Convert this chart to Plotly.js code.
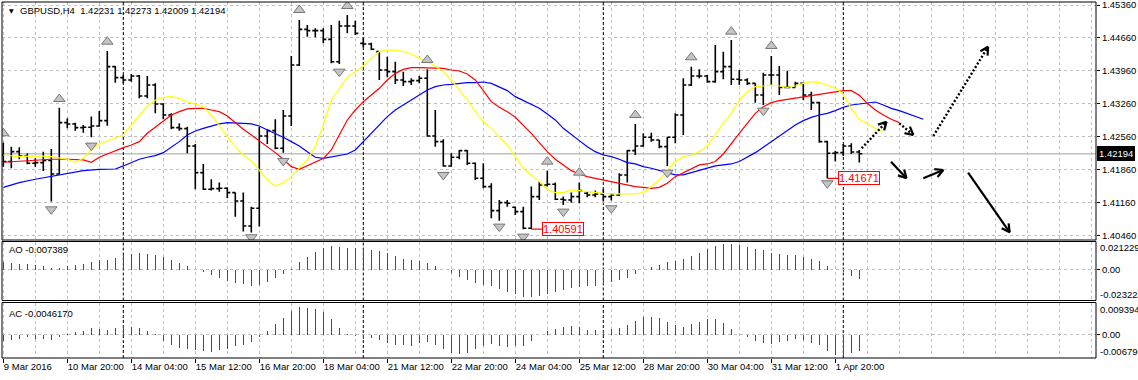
<!DOCTYPE html>
<html>
<head>
<meta charset="utf-8">
<script src="https://cdn.plot.ly/plotly-3.0.1.min.js"></script>
<style>html,body{margin:0;padding:0;background:#fff;}#chart{width:1138px;height:380px;}</style>
</head>
<body>
<div id="chart"></div>
<script>
// ---------------- DATA ----------------
const symbolTitle = "GBPUSD,H4";
const headerValues = ["1.42231", "1.42273", "1.42009", "1.42194"];

const opens = [1.42169,1.42029,1.42240,1.42148,1.41993,1.42007,1.42050,1.41765,1.42857,1.42829,
1.42751,1.42758,1.42786,1.42900,1.44048,1.43814,1.43764,1.43850,1.43424,1.43658,
1.43254,1.43020,1.42751,1.42729,1.42361,1.41793,1.41439,1.41453,1.41460,1.41368,
1.41191,1.40659,1.41035,1.42573,1.42687,1.42311,1.42999,1.44083,1.44842,1.44814,
1.44814,1.44629,1.44154,1.44913,1.44913,1.44544,1.44530,1.44367,1.43977,1.43942,
1.43764,1.43729,1.43750,1.43800,1.42573,1.42453,1.41936,1.42121,1.42261,1.41993,
1.41673,1.41496,1.40985,1.41155,1.41056,1.40964,1.40609,1.41283,1.41531,1.41545,
1.41226,1.41212,1.41283,1.41354,1.41318,1.41340,1.41283,1.41318,1.41744,1.42261,
1.42361,1.42545,1.42488,1.42346,1.42545,1.43020,1.43658,1.43850,1.43850,1.43729,
1.43942,1.44048,1.43779,1.43764,1.43693,1.43445,1.43871,1.43871,1.43608,1.43608,
1.43693,1.43445,1.43282,1.42453,1.42205,1.42219,1.42361,1.42231];
const highs = [1.42431,1.42346,1.42332,1.42205,1.42099,1.42240,1.42297,1.43176,1.42949,1.42857,
1.42807,1.42985,1.43105,1.44381,1.44062,1.43871,1.43892,1.43871,1.43850,1.43693,
1.43268,1.43055,1.42843,1.42772,1.42403,1.41978,1.41652,1.41581,1.41481,1.41368,
1.41368,1.41070,1.42772,1.42715,1.42928,1.43126,1.44275,1.45041,1.44934,1.44863,
1.44863,1.44934,1.45026,1.45147,1.45026,1.44672,1.44559,1.44367,1.44261,1.44154,
1.43942,1.43800,1.43850,1.43991,1.43126,1.42502,1.42205,1.42276,1.42276,1.42007,
1.41993,1.41567,1.41212,1.41212,1.41070,1.41070,1.41496,1.41602,1.41836,1.41581,
1.41283,1.41368,1.41581,1.41389,1.41411,1.41439,1.41354,1.41779,1.42276,1.42829,
1.42630,1.42644,1.42488,1.42559,1.43055,1.43800,1.44048,1.43991,1.43871,1.44509,
1.44367,1.44615,1.43977,1.43800,1.43693,1.43920,1.44275,1.44062,1.43963,1.43729,
1.43708,1.43516,1.43303,1.42474,1.42261,1.42403,1.42417,1.42273];
const lows = [1.41921,1.41886,1.42078,1.41971,1.41921,1.41829,1.41177,1.41758,1.42736,1.42687,
1.42644,1.42545,1.42772,1.42793,1.43708,1.43693,1.43729,1.43374,1.43374,1.43055,
1.42928,1.42715,1.42687,1.42205,1.41439,1.41425,1.41411,1.41389,1.41248,1.40857,
1.40539,1.40517,1.40645,1.42403,1.42290,1.42219,1.42786,1.44062,1.44686,1.44672,
1.44544,1.44119,1.44105,1.44757,1.44722,1.44459,1.44402,1.43764,1.43821,1.43679,
1.43637,1.43658,1.43693,1.42559,1.42346,1.41921,1.41921,1.42078,1.41957,1.41637,
1.41460,1.40822,1.40772,1.41070,1.40893,1.40591,1.40595,1.41212,1.41496,1.41212,
1.41106,1.41155,1.41141,1.41269,1.41269,1.41177,1.41198,1.41297,1.41581,1.42169,
1.42346,1.42453,1.42311,1.41936,1.42417,1.42595,1.43637,1.43800,1.43708,1.43708,
1.43779,1.43658,1.43658,1.43658,1.43282,1.43233,1.43658,1.43445,1.43587,1.43608,
1.43339,1.43126,1.42431,1.41671,1.42029,1.42148,1.42190,1.42009];
const closes = [1.42029,1.42240,1.42148,1.41993,1.42007,1.42050,1.41765,1.42857,1.42829,1.42751,
1.42758,1.42786,1.42900,1.44048,1.43814,1.43764,1.43850,1.43424,1.43658,1.43254,
1.43020,1.42751,1.42729,1.42361,1.41793,1.41439,1.41453,1.41460,1.41368,1.41191,
1.40659,1.41035,1.42573,1.42687,1.42311,1.42999,1.44083,1.44842,1.44814,1.44814,
1.44629,1.44154,1.44913,1.44913,1.44757,1.44530,1.44417,1.43977,1.43942,1.43764,
1.43729,1.43750,1.43800,1.42573,1.42453,1.41936,1.42121,1.42261,1.41993,1.41673,
1.41496,1.40985,1.41155,1.41141,1.40964,1.40609,1.41283,1.41531,1.41545,1.41226,
1.41212,1.41283,1.41411,1.41318,1.41340,1.41283,1.41318,1.41744,1.42261,1.42361,
1.42545,1.42488,1.42346,1.42545,1.43020,1.43658,1.43850,1.43850,1.43729,1.43942,
1.44048,1.43779,1.43764,1.43693,1.43445,1.43871,1.43871,1.43608,1.43608,1.43693,
1.43445,1.43282,1.42453,1.42205,1.42219,1.42361,1.42231,1.42194];

// Alligator lines (bar index, price)
const lipsBars = [0,2,4,6,8,9,10,11,12,14,15,16,17,18,19,20,21,22,23,24,25,26,27,28,29,30,31,32,33,34,35,36,37,38,39,40,
41,42,43,44,45,46,47,48,49,50,51,52,53,54,55,56,57,58,59,60,61,62,63,64,65,66,67,68,69,70,71,72,73,74,75,76,77,78,79,80,
81,82,83,84,85,86,87,88,89,90,91,92,93,94,95,96,97,98,99,100,101,102,103,104,105,106,107,108,109,110];
const lipsPrice = [1.42169,1.42134,1.42148,1.42134,1.42078,1.42014,1.42099,1.42276,1.42403,1.42524,1.42595,1.42807,1.43020,1.43211,1.43339,1.43396,1.43410,1.43374,1.43303,1.43254,
1.43197,1.43020,1.42786,1.42559,1.42346,1.42169,1.42050,1.41850,1.41637,1.41510,1.41581,1.41708,1.41886,1.42064,1.42346,1.42807,
1.43339,1.43587,1.43821,1.43942,1.44062,1.44225,1.44367,1.44402,1.44402,1.44367,1.44317,1.44225,1.44154,1.44062,1.43942,1.43764,1.43552,1.43339,1.43091,1.42878,
1.42736,1.42559,1.42382,1.42134,1.41886,1.41744,1.41602,1.41439,1.41368,1.41368,1.41425,1.41411,1.41389,1.41368,1.41354,1.41340,1.41340,1.41340,1.41340,1.41368,
1.41496,1.41637,1.41836,1.42029,1.42134,1.42169,1.42240,1.42361,1.42595,1.42843,1.43055,1.43339,1.43516,1.43623,1.43637,1.43658,1.43637,1.43608,1.43637,1.43693,
1.43729,1.43708,1.43658,1.43587,1.43467,1.43162,1.42928,1.42829,1.42736,1.42658];
const teethBars = [0,2,4,6,8,10,11,12,13,14,15,16,17,18,19,20,21,22,23,24,25,26,27,28,29,30,31,32,33,34,35,36,37,38,39,40,
41,42,43,44,45,46,47,48,49,50,51,52,53,54,55,56,57,58,59,60,61,62,63,64,65,66,67,68,69,70,71,72,73,74,75,76,77,78,79,80,
81,82,83,84,85,86,87,88,89,90,91,92,93,94,95,96,97,98,99,100,101,102,103,104,105,106,107,108,109,110,111,112];
const teethPrice = [1.42014,1.42036,1.42050,1.42078,1.42078,1.42064,1.42014,1.42121,1.42190,1.42261,1.42325,1.42382,1.42453,1.42630,1.42758,1.42900,1.43020,1.43091,1.43148,1.43162,
1.43162,1.43126,1.43091,1.42999,1.42857,1.42715,1.42595,1.42474,1.42346,1.42219,1.42078,1.41921,1.41864,1.41936,1.42007,1.42092,
1.42276,1.42595,1.42914,1.43126,1.43303,1.43445,1.43587,1.43764,1.43906,1.43991,1.44027,1.44027,1.44027,1.44027,1.44013,1.43977,1.43956,1.43892,1.43764,1.43538,
1.43303,1.43183,1.43091,1.42970,1.42807,1.42630,1.42431,1.42240,1.42078,1.41957,1.41836,1.41765,1.41708,1.41673,1.41637,1.41602,1.41567,1.41531,1.41496,1.41481,
1.41460,1.41481,1.41567,1.41708,1.41793,1.41886,1.41957,1.41978,1.42029,1.42190,1.42417,1.42630,1.42843,1.43055,1.43197,1.43282,1.43325,1.43353,1.43374,1.43396,
1.43424,1.43460,1.43481,1.43516,1.43538,1.43538,1.43438,1.43268,1.43126,1.43020,1.42928,1.42857];
const jawBars = [0,2,4,6,8,10,12,14,15,16,17,18,19,20,21,22,23,24,25,26,27,28,29,30,31,32,33,34,35,36,37,38,39,40,
41,42,43,44,45,46,47,48,49,50,51,52,53,54,55,56,57,58,59,60,61,62,63,64,65,66,67,68,69,70,71,72,73,74,75,76,77,78,79,80,
81,82,83,84,85,86,87,88,89,90,91,92,93,94,95,96,97,98,99,100,101,102,103,104,105,106,107,108,109,110,111,112,113,114,115];
const jawPrice = [1.41481,1.41581,1.41652,1.41708,1.41765,1.41836,1.41864,1.41871,1.41936,1.42014,1.42078,1.42121,1.42155,1.42219,1.42332,1.42453,1.42595,1.42680,1.42736,1.42786,
1.42829,1.42857,1.42857,1.42843,1.42829,1.42786,1.42701,1.42630,1.42545,1.42453,1.42361,1.42240,1.42121,1.42099,
1.42134,1.42169,1.42190,1.42276,1.42453,1.42630,1.42807,1.42985,1.43126,1.43233,1.43353,1.43460,1.43552,1.43623,1.43658,1.43672,1.43693,1.43708,1.43708,1.43722,
1.43693,1.43623,1.43538,1.43410,1.43325,1.43254,1.43162,1.43041,1.42914,1.42736,1.42595,1.42474,1.42346,1.42240,1.42169,1.42134,1.42078,1.42007,1.41978,1.41921,
1.41886,1.41836,1.41793,1.41744,1.41744,1.41793,1.41836,1.41886,1.41936,1.41957,1.41978,1.42029,1.42121,1.42219,1.42332,1.42453,1.42559,1.42687,1.42807,1.42900,
1.42970,1.43020,1.43055,1.43112,1.43183,1.43233,1.43254,1.43282,1.43296,1.43233,1.43162,1.43112,1.43055,1.42985,1.42928];

// Fractals (bar index, glyph price)
const fractalUpBars = [0,7,13,37,43,53,68,72,79,86,91,96];
const fractalUpPrice = [1.42630,1.43360,1.44580,1.45253,1.45338,1.44190,1.42027,1.41793,1.43020,1.44247,1.44793,1.44488];
const fractalDownBars = [6,11,31,35,42,55,62,65,70,76,83,95,103];
const fractalDownPrice = [1.41013,1.42368,1.40418,1.42042,1.43942,1.41744,1.40645,1.40432,1.40964,1.41035,1.41793,1.43112,1.41567];

// Awesome Oscillator
const aoValues = [0.0058,0.0050,0.0043,0.0040,0.0033,0.0025,0.0013,0.0010,0.0028,0.0035,
0.0043,0.0058,0.0070,0.0075,0.0088,0.0113,0.0118,0.0126,0.0118,0.0108,
0.0095,0.0073,0.0048,0.0025,-0.0002,-0.0018,-0.0040,-0.0063,-0.0085,-0.0100,
-0.0108,-0.0123,-0.0113,-0.0093,-0.0063,-0.0033,0.0008,0.0058,0.0093,0.0133,
0.0163,0.0176,0.0168,0.0166,0.0163,0.0158,0.0146,0.0141,0.0123,0.0100,
0.0083,0.0070,0.0063,0.0048,0.0025,-0.0001,-0.0025,-0.0055,-0.0075,-0.0100,
-0.0113,-0.0126,-0.0148,-0.0168,-0.0186,-0.0206,-0.0207,-0.0201,-0.0186,-0.0168,
-0.0156,-0.0138,-0.0131,-0.0126,-0.0120,-0.0116,-0.0093,-0.0075,-0.0063,-0.0033,
0.0001,0.0018,0.0038,0.0058,0.0068,0.0078,0.0100,0.0128,0.0153,0.0176,
0.0191,0.0190,0.0183,0.0171,0.0158,0.0146,0.0128,0.0120,0.0113,0.0108,
0.0095,0.0083,0.0063,0.0025,-0.0001,-0.0018,-0.0050,-0.007389];
// Accelerator Oscillator
const acValues = [-0.0019,-0.0015,-0.0012,-0.0008,-0.0012,-0.0013,-0.0015,-0.0008,0.0002,0.0008,
0.0012,0.0019,0.0017,0.0014,0.0021,0.0029,0.0023,0.0019,0.0010,0.0002,
-0.0019,-0.0031,-0.0039,-0.0043,-0.0046,-0.0048,-0.0049,-0.0046,-0.0043,-0.0034,
-0.0029,-0.0022,-0.0008,0.0012,0.0031,0.0050,0.0069,0.0082,0.0079,0.0075,
0.0067,0.0046,0.0021,0.0003,-0.0003,-0.0013,-0.0010,-0.0015,-0.0024,-0.0029,
-0.0031,-0.0032,-0.0024,-0.0021,-0.0031,-0.0043,-0.0053,-0.0056,-0.0053,-0.0043,
-0.0034,-0.0027,-0.0034,-0.0035,-0.0033,-0.0032,-0.0019,-0.0002,0.0010,0.0017,
0.0023,0.0024,0.0023,0.0014,0.0013,0.0012,0.0017,0.0021,0.0029,0.0040,
0.0051,0.0053,0.0050,0.0037,0.0027,0.0023,0.0031,0.0037,0.0046,0.0045,
0.0034,0.0017,-0.0002,-0.0006,-0.0019,-0.0024,-0.0026,-0.0021,-0.0017,-0.0012,
-0.0014,-0.0024,-0.0029,-0.0048,-0.0058,-0.0061,-0.0053,-0.004617];
const aoLabel = "AO -0.007389";
const acLabel = "AC -0.0046170";
const aoScale = [-0.023224, 0.021229];
const acScale = [-0.006796, 0.009394];
const aoScaleText = ["-0.023224", "0.00", "0.021229"];
const acScaleText = ["-0.006796", "0.00", "0.009394"];

// Axis ticks
const priceTicks = [1.40460,1.41160,1.41860,1.42560,1.43260,1.43960,1.44660,1.45360];
const timeTickBars = [0,8,16,24,32,40,48,56,64,72,80,88,96,104];
const timeTickText = ["9 Mar 2016","10 Mar 20:00","14 Mar 04:00","15 Mar 12:00","16 Mar 20:00","18 Mar 04:00",
"21 Mar 12:00","22 Mar 20:00","24 Mar 04:00","25 Mar 12:00","28 Mar 20:00","30 Mar 04:00","31 Mar 12:00","1 Apr 20:00"];
const weekSeparatorBars = [15,45,75,105];

// Low labels
const lowLabelBars = [66,103];
const lowLabelPrices = [1.40591,1.41671];
const currentPrice = 1.42194;

// Hand-drawn arrows (tail -> head)
const arrowTailBar = [107.3,112.0,110.96,115.0,116.25,120.6];
const arrowTailPrice = [1.42311,1.42843,1.42026,1.41673,1.42573,1.41792];
const arrowHeadBar = [110.4,113.75,112.9,117.5,123.1,125.8];
const arrowHeadPrice = [1.42877,1.42594,1.41673,1.41849,1.44473,1.40524];
const arrowDotted = [true,true,false,false,true,false];

// ---------------- LAYOUT GEOMETRY ----------------
const W=1138, H=380, ML=2, MR=42, MT=2, MB=22;
const plotW=W-ML-MR, plotH=H-MT-MB;
const PXBAR=8, BAR0PX=3.3;
const PRICE_PER_PX = 0.007/32.9;
const xRange=[(ML-BAR0PX)/PXBAR, (W-MR-BAR0PX)/PXBAR];
const yMainRange=[1.45360-(240-5)*PRICE_PER_PX, 1.45360+3*PRICE_PER_PX];
function dom(topPx, botPx){ return [(H-MB-botPx)/plotH, (H-MB-topPx)/plotH]; }
const mainDom=dom(2,240), aoDom=dom(241.5,300.5), acDom=dom(302.5,358);
const px2x = px => (px-ML)/plotW;
const py2y = py => (H-MB-py)/plotH;

const FONT = "Liberation Sans, Arial, sans-serif";
const GRID = "#c0c0c0", GREEN="#008000", RED="#ff0000";
const bars = opens.map((_,i)=>i);

function histColors(vals, firstUp){
  return vals.map((v,i)=> (i===0 ? firstUp : v>vals[i-1]) ? GREEN : RED);
}

const traces = [
  {type:'ohlc', x:bars, open:opens, high:highs, low:lows, close:closes, xaxis:'x', yaxis:'y',
   increasing:{line:{color:'#000', width:1.6}}, decreasing:{line:{color:'#000', width:1.6}},
   tickwidth:0.38, hoverinfo:'skip'},
  {type:'scatter', mode:'lines', x:jawBars, y:jawPrice, line:{color:'#0000ff', width:1.2}, xaxis:'x', yaxis:'y', hoverinfo:'skip'},
  {type:'scatter', mode:'lines', x:teethBars, y:teethPrice, line:{color:'#ff0000', width:1.2}, xaxis:'x', yaxis:'y', hoverinfo:'skip'},
  {type:'scatter', mode:'lines', x:lipsBars, y:lipsPrice, line:{color:'#ffff00', width:1.2}, xaxis:'x', yaxis:'y', hoverinfo:'skip'},
  {type:'scatter', mode:'markers', x:fractalUpBars, y:fractalUpPrice, xaxis:'x', yaxis:'y', hoverinfo:'skip',
   marker:{symbol:'triangle-up', size:10, color:'#c4c4c4', line:{color:'#787878', width:1}}},
  {type:'scatter', mode:'markers', x:fractalDownBars, y:fractalDownPrice, xaxis:'x', yaxis:'y', hoverinfo:'skip',
   marker:{symbol:'triangle-down', size:10, color:'#c4c4c4', line:{color:'#787878', width:1}}},
  {type:'bar', x:bars, y:aoValues, xaxis:'x', yaxis:'y2', width:0.13, hoverinfo:'skip',
   marker:{color:histColors(aoValues,false), line:{width:0}}},
  {type:'bar', x:bars, y:acValues, xaxis:'x', yaxis:'y3', width:0.13, hoverinfo:'skip',
   marker:{color:histColors(acValues,true), line:{width:0}}}
];

const shapes = [];
const annotations = [];

// current price line
shapes.push({type:'line', xref:'paper', yref:'y', x0:0, x1:1, y0:currentPrice, y1:currentPrice,
  line:{color:'#c0c0c0', width:1.5}, layer:'below'});
// week separators and panel frames
const panelDoms = [mainDom, aoDom, acDom];
panelDoms.forEach(d=>{
  weekSeparatorBars.forEach(b=>{
    shapes.push({type:'line', xref:'x', yref:'paper', x0:b, x1:b, y0:d[0], y1:d[1],
      line:{color:'#000', width:1, dash:'3px,2px'}, layer:'below'});
  });
  shapes.push({type:'rect', xref:'paper', yref:'paper', x0:0, x1:1, y0:d[0], y1:d[1],
    line:{color:'#000', width:1}, layer:'above'});
});
// low labels
lowLabelBars.forEach((b,i)=>{
  shapes.push({type:'line', xref:'x', yref:'y', x0:b, x1:b+11/PXBAR, y0:lowLabelPrices[i], y1:lowLabelPrices[i],
    line:{color:RED, width:1.2}, layer:'above'});
  annotations.push({xref:'x', yref:'y', x:b, y:lowLabelPrices[i], xanchor:'left', yanchor:'middle', xshift:11,
    text:lowLabelPrices[i].toFixed(5), showarrow:false, font:{family:FONT, size:11, color:RED},
    bgcolor:'#fff', bordercolor:RED, borderwidth:1, borderpad:0});
});
// drawn arrows: shaft + chevron head
function headWings(hb, hp, tb, tp, lenPx, angDeg){
  const dx=(hb-tb)*PXBAR, dy=(hp-tp)/PRICE_PER_PX, L=Math.hypot(dx,dy);
  const ux=dx/L, uy=dy/L, out=[];
  [1,-1].forEach(s=>{
    const a=s*angDeg*Math.PI/180;
    const wx=-(ux*Math.cos(a)-uy*Math.sin(a))*lenPx;
    const wy=-(ux*Math.sin(a)+uy*Math.cos(a))*lenPx;
    out.push({type:'line', xref:'x', yref:'y', x0:hb, y0:hp, x1:hb+wx/PXBAR, y1:hp+wy*PRICE_PER_PX,
      line:{color:'#000', width:2.2}, layer:'above'});
  });
  return out;
}
arrowTailBar.forEach((tb,i)=>{
  const hb=arrowHeadBar[i], tp=arrowTailPrice[i], hp=arrowHeadPrice[i];
  shapes.push({type:'line', xref:'x', yref:'y', x0:tb, y0:tp, x1:hb, y1:hp,
    line:{color:'#000', width:arrowDotted[i]?2.4:2.2, dash:arrowDotted[i]?'2px,2px':'solid'}, layer:'above'});
  headWings(hb, hp, tb, tp, 9, 28).forEach(s=>shapes.push(s));
});
// current price tag
annotations.push({xref:'paper', yref:'y', x:1, y:currentPrice, xanchor:'left', yanchor:'middle', xshift:1,
  text:currentPrice.toFixed(5), showarrow:false, font:{family:FONT, size:9.5, color:'#fff'},
  bgcolor:'#000', bordercolor:'#000', borderwidth:1, borderpad:1});
// header
annotations.push({xref:'paper', yref:'paper', x:px2x(6.5), y:py2y(10.8), xanchor:'left', yanchor:'middle',
  text:'▼', showarrow:false, font:{family:'DejaVu Sans', size:6, color:'#000'}});
annotations.push({xref:'paper', yref:'paper', x:px2x(17.5), y:py2y(10.5), xanchor:'left', yanchor:'middle',
  text:symbolTitle+'\u00a0\u00a0'+headerValues.join(' '), showarrow:false, font:{family:FONT, size:9.5, color:'#000'}});
// indicator labels
annotations.push({xref:'paper', yref:'paper', x:px2x(6.5), y:py2y(250), xanchor:'left', yanchor:'middle',
  text:aoLabel, showarrow:false, font:{family:FONT, size:9.5, color:'#000'}});
annotations.push({xref:'paper', yref:'paper', x:px2x(6.5), y:py2y(313), xanchor:'left', yanchor:'middle',
  text:acLabel, showarrow:false, font:{family:FONT, size:9.5, color:'#000'}});
// indicator scale labels
[[aoDom,aoScaleText],[acDom,acScaleText]].forEach(([d,txt])=>{
  annotations.push({xref:'paper', yref:'paper', x:1, y:d[1], xanchor:'left', yanchor:'top', xshift:2, yshift:1,
    text:txt[2], showarrow:false, font:{family:FONT, size:9.5, color:'#000'}});
  annotations.push({xref:'paper', yref:'paper', x:1, y:d[0], xanchor:'left', yanchor:'bottom', xshift:2, yshift:-1,
    text:txt[0], showarrow:false, font:{family:FONT, size:9.5, color:'#000'}});
});

const tickFont = {family:FONT, size:9.5, color:'#000'};
const layout = {
  width:W, height:H, margin:{l:ML, r:MR, t:MT, b:MB, pad:0},
  paper_bgcolor:'#fff', plot_bgcolor:'#fff', showlegend:false, bargap:0,
  xaxis:{range:xRange, anchor:'y3', rangeslider:{visible:false}, tickmode:'array', tickvals:timeTickBars, ticktext:timeTickText,
    ticks:'outside', ticklen:4, tickcolor:'#000', tickwidth:1, tickangle:0, ticklabelposition:'outside right', tickfont:tickFont,
    ticklabeloverflow:'allow',
    showgrid:true, gridcolor:GRID, griddash:'3px,3px', gridwidth:1, zeroline:false, showline:false, fixedrange:true,
    minor:{tickmode:'linear', tick0:0, dtick:4, showgrid:true, gridcolor:GRID, griddash:'3px,3px', gridwidth:1, ticks:''}},
  yaxis:{domain:mainDom, anchor:'x', side:'right', range:yMainRange, tickmode:'array', tickvals:priceTicks,
    ticktext:priceTicks.map(v=>v.toFixed(5)), ticks:'outside', ticklen:3, tickcolor:'#000', tickfont:tickFont,
    ticklabeloverflow:'allow',
    showgrid:true, gridcolor:GRID, griddash:'3px,3px', zeroline:false, showline:false, fixedrange:true},
  yaxis2:{domain:aoDom, anchor:'x', side:'right', range:aoScale, tickmode:'array', tickvals:[0], ticktext:[aoScaleText[1]],
    ticks:'outside', ticklen:3, tickcolor:'#000', tickfont:tickFont, showgrid:true, gridcolor:GRID, griddash:'3px,3px',
    zeroline:false, showline:false, fixedrange:true},
  yaxis3:{domain:acDom, anchor:'x', side:'right', range:acScale, tickmode:'array', tickvals:[0], ticktext:[acScaleText[1]],
    ticks:'outside', ticklen:3, tickcolor:'#000', tickfont:tickFont, showgrid:true, gridcolor:GRID, griddash:'3px,3px',
    zeroline:false, showline:false, fixedrange:true},
  shapes:shapes, annotations:annotations
};
Plotly.newPlot('chart', traces, layout, {staticPlot:true, displayModeBar:false});
</script>
</body>
</html>
